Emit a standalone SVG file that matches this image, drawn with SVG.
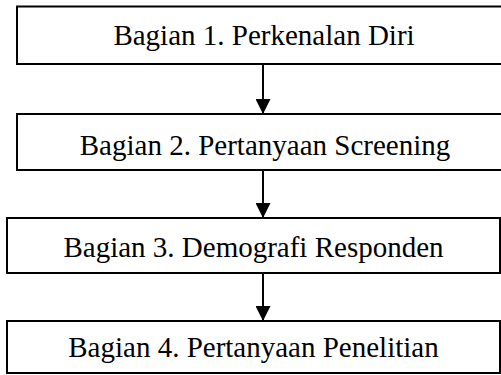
<svg xmlns="http://www.w3.org/2000/svg" width="501" height="375" viewBox="0 0 501 375">
  <style>
    .box { fill: #ffffff; stroke: #000000; stroke-width: 2; }
    .label { font-family: "Liberation Serif", "Times New Roman", serif; font-size: 29px; fill: #000000; text-anchor: middle; }
    .link { stroke: #000000; stroke-width: 2; fill: none; marker-end: url(#head); }
  </style>
  <defs>
    <marker id="head" markerWidth="15" markerHeight="15" refX="15" refY="7.5" orient="auto" markerUnits="userSpaceOnUse">
      <path d="M0,0 L15,7.5 L0,15 Z" fill="#000000"/>
    </marker>
  </defs>
  <rect width="501" height="375" fill="#ffffff"/>

  <g id="connectors">
    <line class="link" x1="263" y1="64" x2="263" y2="114"/>
    <line class="link" x1="263" y1="170" x2="263" y2="218"/>
    <line class="link" x1="263" y1="273" x2="263" y2="321"/>
  </g>

  <g id="bagian1">
    <rect class="box" x="17" y="6.5" width="496" height="57.5"/>
    <text class="label" x="264" y="44.5">Bagian 1. Perkenalan Diri</text>
  </g>
  <g id="bagian2">
    <rect class="box" x="17" y="114" width="496" height="56"/>
    <text class="label" x="265" y="154.5">Bagian 2. Pertanyaan Screening</text>
  </g>
  <g id="bagian3">
    <rect class="box" x="7" y="218" width="493" height="55"/>
    <text class="label" x="253.5" y="257">Bagian 3. Demografi Responden</text>
  </g>
  <g id="bagian4">
    <rect class="box" x="7" y="321" width="493" height="52"/>
    <text class="label" x="253.5" y="357">Bagian 4. Pertanyaan Penelitian</text>
  </g>
</svg>
